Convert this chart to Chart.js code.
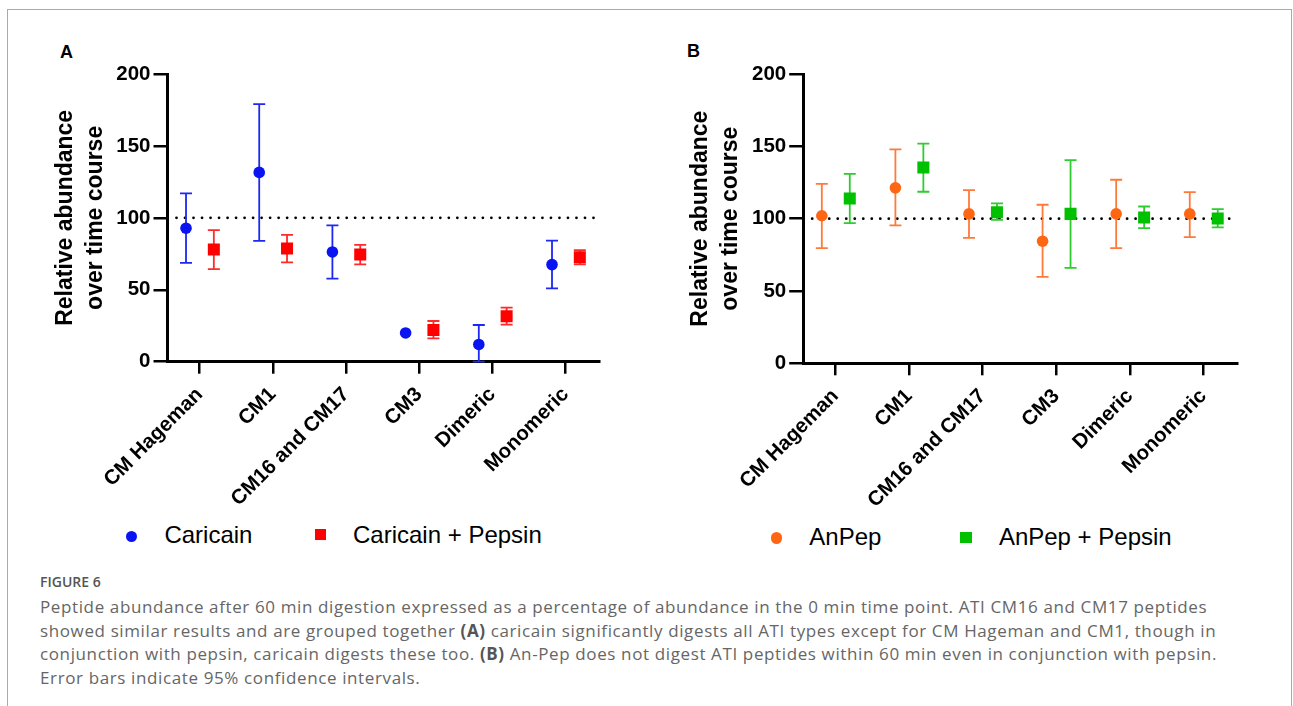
<!DOCTYPE html>
<html>
<head>
<meta charset="utf-8">
<title>Figure 6</title>
<script src="https://cdn.jsdelivr.net/npm/chart.js@4.4.1/dist/chart.umd.min.js"></script>
<style>
  body {
    margin: 0;
    width: 1293px;
    height: 706px;
    overflow: hidden;
    position: relative;
    background: #fff;
    font-family: 'Liberation Sans', Arial, sans-serif;
  }
  .frame {
    position: absolute;
    left: 7px;
    top: 9px;
    width: 1283px;
    height: 740px;
    border: 1px solid #aaa;
  }
  canvas { position: absolute; }
  .letter {
    position: absolute;
    font-weight: bold;
    font-size: 18px;
    line-height: 18px;
    color: #000;
  }
  .legend-mark { position: absolute; }
  .legend-text {
    position: absolute;
    font-size: 24px;
    line-height: 24px;
    color: #000;
    white-space: nowrap;
  }
  .caption-title {
    position: absolute;
    left: 40px;
    top: 572px;
    font-family: 'Open Sans', sans-serif;
    font-weight: 600;
    font-size: 14px;
    color: #555;
  }
  .caption {
    position: absolute;
    left: 40px;
    top: 595px;
    font-family: 'Open Sans', sans-serif;
    font-size: 17px;
    letter-spacing: 0.62px;
    line-height: 23.5px;
    color: #666;
    white-space: nowrap;
  }
  .caption b { color: #555; }
</style>
</head>
<body>
<div class="frame"></div>
<div class="letter" style="left:60px; top:43px;">A</div>
<div class="letter" style="left:687px; top:42px;">B</div>
<canvas id="chartA" width="592" height="470" style="left:25px; top:40px;"></canvas>
<canvas id="chartB" width="595" height="470" style="left:660px; top:40px;"></canvas>
<div id="legends"></div>
<div class="caption-title">FIGURE 6</div>
<div class="caption">
Peptide abundance after 60 min digestion expressed as a percentage of abundance in the 0 min time point. ATI CM16 and CM17 peptides<br>
showed similar results and are grouped together <b>(A)</b> caricain significantly digests all ATI types except for CM Hageman and CM1, though in<br>
conjunction with pepsin, caricain digests these too. <b>(B)</b> An-Pep does not digest ATI peptides within 60 min even in conjunction with pepsin.<br>
Error bars indicate 95% confidence intervals.
</div>
<script>
const categories = ['CM Hageman', 'CM1', 'CM16 and CM17', 'CM3', 'Dimeric', 'Monomeric'];
const yTicks = [0, 50, 100, 150, 200];
const referenceLevel = 100;

// panel A
const caricain = [92.8, 131.6, 76.3, 20, 12, 67.5];
const caricainLow = [68.7, 84, 57.8, 20, 0, 51];
const caricainHigh = [117, 179, 94.7, 20, 25.5, 84.2];

const caricainPepsin = [78, 78.7, 74.5, 22, 31.6, 72.6];
const caricainPepsinLow = [64.3, 69, 67.7, 16.2, 25.8, 67.7];
const caricainPepsinHigh = [91.4, 88.2, 81.2, 28.3, 37.6, 77.5];

// panel B
const anpep = [102, 121.3, 103.3, 84.4, 103.3, 103.3];
const anpepLow = [79.6, 95.3, 86.7, 59.7, 79.6, 87.2];
const anpepHigh = [124.1, 147.9, 119.7, 109.6, 126.9, 118.3];

const anpepPepsin = [114, 135.4, 104.4, 103.3, 100.8, 100.1];
const anpepPepsinLow = [96.9, 118.6, 99.2, 66, 93.4, 93.9];
const anpepPepsinHigh = [131, 151.8, 110.5, 140.5, 108.4, 106.6];

const FONT = "'Liberation Sans', Arial, sans-serif";

// dotted line at 100 and the error bars, drawn under the markers
const errorBarPlugin = {
    id: 'errorBars',
    beforeDatasetsDraw(chart) {
        const { ctx, chartArea, scales } = chart;
        const yRef = scales.y.getPixelForValue(referenceLevel);

        ctx.save();
        ctx.strokeStyle = '#000';
        ctx.lineWidth = 2.8;
        ctx.lineCap = 'round';
        ctx.setLineDash([0.01, 8.5]);
        ctx.beginPath();
        ctx.moveTo(chartArea.left + 9, yRef);
        ctx.lineTo(chartArea.right, yRef);
        ctx.stroke();
        ctx.restore();

        chart.data.datasets.forEach((ds, di) => {
            const meta = chart.getDatasetMeta(di);
            ctx.save();
            ctx.strokeStyle = ds.barColor;
            ctx.lineWidth = 1.8;
            meta.data.forEach((pt, i) => {
                const lo = ds.errLow[i];
                const hi = ds.errHigh[i];
                if (lo === hi) return;
                const yLo = scales.y.getPixelForValue(lo);
                const yHi = scales.y.getPixelForValue(hi);
                const half = 6;
                ctx.beginPath();
                ctx.moveTo(pt.x, yLo);
                ctx.lineTo(pt.x, yHi);
                ctx.moveTo(pt.x - half, yLo);
                ctx.lineTo(pt.x + half, yLo);
                ctx.moveTo(pt.x - half, yHi);
                ctx.lineTo(pt.x + half, yHi);
                ctx.stroke();
            });
            ctx.restore();
        });
    }
};

function makeDataset(s) {
    return {
        label: s.label,
        data: s.values.map((v, i) => ({ x: i + s.dodge, y: v })),
        errLow: s.low,
        errHigh: s.high,
        barColor: s.barColor,
        pointStyle: s.style,
        pointRadius: s.radius,
        pointHoverRadius: s.radius,
        pointBackgroundColor: s.color,
        pointBorderWidth: 0,
        showLine: false
    };
}

function makePanel(canvasId, series, yAxisWidth, xAxisHeight, titlePad) {
    const axisBorder = { display: true, color: '#000', width: 3 };

    return new Chart(document.getElementById(canvasId), {
        type: 'scatter',
        data: { datasets: series.map(makeDataset) },
        options: {
            responsive: false,
            animation: false,
            layout: { padding: { top: 34, right: 18, left: 0, bottom: 0 } },
            plugins: {
                legend: { display: false },
                tooltip: { enabled: false }
            },
            scales: {
                x: {
                    type: 'linear',
                    min: -0.438,
                    max: 5.457,
                    afterBuildTicks: sc => { sc.ticks = categories.map((c, i) => ({ value: i })); },
                    afterFit: sc => { sc.height = xAxisHeight; },
                    grid: { drawOnChartArea: false, tickLength: 12, color: '#000', lineWidth: 2.5 },
                    border: axisBorder,
                    ticks: {
                        autoSkip: false,
                        minRotation: 45,
                        maxRotation: 45,
                        padding: 7,
                        color: '#000',
                        font: { family: FONT, size: 20.5, weight: 'bold', lineHeight: 1.46 },
                        callback: v => categories[v]
                    }
                },
                y: {
                    min: 0,
                    max: 200,
                    afterBuildTicks: sc => { sc.ticks = yTicks.map(v => ({ value: v })); },
                    afterFit: sc => { sc.width = yAxisWidth; },
                    grid: { drawOnChartArea: false, tickLength: 14, color: '#000', lineWidth: 2.5 },
                    border: axisBorder,
                    ticks: {
                        padding: 3,
                        color: '#000',
                        font: { family: FONT, size: 20.5, weight: 'bold' }
                    },
                    title: {
                        display: true,
                        text: ['Relative abundance', 'over time course'],
                        color: '#000',
                        padding: { top: titlePad, bottom: 0 },
                        font: { family: FONT, size: 23, weight: 'bold', lineHeight: 1.3 }
                    }
                }
            }
        },
        plugins: [errorBarPlugin]
    });
}

const seriesA = [
    { label: 'Caricain', values: caricain, low: caricainLow, high: caricainHigh,
      dodge: -0.185, style: 'circle', radius: 5.8, color: '#0a14f0', barColor: '#1e28f0' },
    { label: 'Caricain + Pepsin', values: caricainPepsin, low: caricainPepsinLow, high: caricainPepsinHigh,
      dodge: 0.195, style: 'rect', radius: 8.5, color: '#ff0000', barColor: '#ff2a2a' }
];
const seriesB = [
    { label: 'AnPep', values: anpep, low: anpepLow, high: anpepHigh,
      dodge: -0.185, style: 'circle', radius: 5.8, color: '#ff6614', barColor: '#ff7a3a' },
    { label: 'AnPep + Pepsin', values: anpepPepsin, low: anpepPepsinLow, high: anpepPepsinHigh,
      dodge: 0.195, style: 'rect', radius: 8.5, color: '#00c000', barColor: '#2ecc2e' }
];

makePanel('chartA', seriesA, 142.5, 148.3, 26);
makePanel('chartB', seriesB, 143.2, 146.7, 25.5);

// legends under each panel
const legendSpots = [
    { s: seriesA[0], mx: 131.3, my: 536.5, tx: 164.4, ty: 522.7 },
    { s: seriesA[1], mx: 320.5, my: 534.5, tx: 353, ty: 522.7 },
    { s: seriesB[0], mx: 776.5, my: 538, tx: 809.3, ty: 524.7 },
    { s: seriesB[1], mx: 966.2, my: 537.5, tx: 998.9, ty: 524.7 }
];
const legendEl = document.getElementById('legends');
legendSpots.forEach(p => {
    const size = p.s.style === 'circle' ? 11.5 : 11.5;
    const mark = document.createElement('div');
    mark.className = 'legend-mark';
    mark.style.left = (p.mx - size / 2) + 'px';
    mark.style.top = (p.my - size / 2) + 'px';
    mark.style.width = size + 'px';
    mark.style.height = size + 'px';
    mark.style.background = p.s.color;
    if (p.s.style === 'circle') mark.style.borderRadius = '50%';
    legendEl.appendChild(mark);

    const text = document.createElement('div');
    text.className = 'legend-text';
    text.style.left = p.tx + 'px';
    text.style.top = p.ty + 'px';
    text.textContent = p.s.label;
    legendEl.appendChild(text);
});
</script>
</body>
</html>
